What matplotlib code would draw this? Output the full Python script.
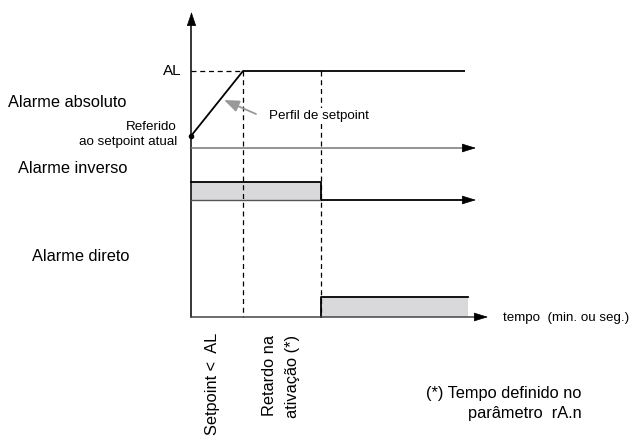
import matplotlib
matplotlib.use("Agg")
import matplotlib.pyplot as plt
from matplotlib.patches import Rectangle

plt.rcParams['font.family'] = ['Liberation Sans', 'DejaVu Sans']

# Key time positions (diagram units)
t_start = 191
t_ramp_end = 243
t_delay_end = 321
t_end = 468

# Setpoint profile (absolute alarm)
sp_t = [t_start, t_ramp_end, t_end - 3]
sp_y = [136, 71, 71]
AL_level = 71

# Row baselines
base_abs = 148
base_inv = 200
base_dir = 317
inv_top = 182
dir_top = 297

BIG = 11.8
SMALL = 9.6

fig = plt.figure(figsize=(6.30, 4.36), dpi=100)
ax = fig.add_axes([0, 0, 1, 1])
ax.set_xlim(0, 630)
ax.set_ylim(436, 0)
ax.axis('off')

lw = 1.3
AP = dict(arrowstyle='-|>,head_length=0.9,head_width=0.28', color='black', lw=0.5, shrinkA=0, shrinkB=0)

# vertical axis
ax.plot([t_start, t_start], [base_dir, 22], color='black', lw=1.1)
ax.annotate('', xy=(t_start + 0.5, 12), xytext=(t_start + 0.5, 24),
            arrowprops=dict(AP, arrowstyle='-|>,head_length=0.9,head_width=0.3'))

# AL dashed
ax.plot([t_start, t_ramp_end], [AL_level, AL_level], color='black', lw=0.9, ls=(0, (4, 3)))
ax.text(182, AL_level, 'AL', ha='right', va='center', fontsize=11)

# setpoint profile
ax.plot(sp_t, sp_y, color='black', lw=lw, solid_capstyle='butt')
ax.plot([sp_t[0]], [sp_y[0]], 'o', color='black', ms=3)

# dashed verticals
for tx in (t_ramp_end, t_delay_end):
    ax.plot([tx, tx], [AL_level, base_dir], color='black', lw=0.9, ls=(0, (4, 3)), zorder=2)

# absolute alarm time axis
ax.plot([t_start, 466], [base_abs, base_abs], color='#777777', lw=1.1, solid_capstyle='butt')
ax.annotate('', xy=(476, base_abs), xytext=(464, base_abs), arrowprops=AP)

# inverse alarm
ax.add_patch(Rectangle((t_start, inv_top), t_delay_end - t_start, base_inv - inv_top,
                       facecolor='#d9d9db', edgecolor='none', zorder=1))
ax.plot([t_start, t_delay_end, t_delay_end], [inv_top, inv_top, base_inv], color='black', lw=lw)
ax.plot([t_start, t_delay_end], [base_inv, base_inv], color='#555555', lw=1.0)
ax.plot([t_delay_end, 466], [base_inv, base_inv], color='black', lw=lw, solid_capstyle='butt')
ax.annotate('', xy=(476, base_inv), xytext=(464, base_inv), arrowprops=AP)

# direct alarm
ax.add_patch(Rectangle((t_delay_end, dir_top), t_end - t_delay_end, base_dir - dir_top,
                       facecolor='#d9d9db', edgecolor='none', zorder=1))
ax.plot([t_delay_end, t_delay_end, t_end], [base_dir, dir_top, dir_top], color='black', lw=lw)
ax.plot([t_start, 478], [base_dir, base_dir], color='#444444', lw=1.1, solid_capstyle='butt')
ax.annotate('', xy=(488, base_dir), xytext=(476, base_dir), arrowprops=AP)

# gray pointer arrow
ax.annotate('', xy=(224, 100), xytext=(256, 114),
            arrowprops=dict(arrowstyle='-|>,head_length=0.9,head_width=0.35', color='#999999', lw=1.3, shrinkA=0, shrinkB=0))
ax.text(269, 116, 'Perfil de setpoint', ha='left', va='center', fontsize=SMALL, zorder=5,
        bbox=dict(facecolor='white', edgecolor='none', pad=1.5))

# labels
ax.text(8, 102, 'Alarme absoluto', ha='left', va='center', fontsize=BIG)
ax.text(177, 127, 'Referido', ha='right', va='center', fontsize=SMALL)
ax.text(177, 142, 'ao setpoint atual', ha='right', va='center', fontsize=SMALL)
ax.text(18, 168, 'Alarme inverso', ha='left', va='center', fontsize=BIG)
ax.text(32, 256, 'Alarme direto', ha='left', va='center', fontsize=BIG)
ax.text(503, 318, 'tempo  (min. ou seg.)', ha='left', va='center', fontsize=SMALL)

ax.text(213, 333, 'Setpoint <  AL', rotation=90, ha='center', va='top', fontsize=BIG)
ax.text(270, 335, 'Retardo na', rotation=90, ha='center', va='top', fontsize=BIG)
ax.text(292, 335, 'ativação (*)', rotation=90, ha='center', va='top', fontsize=BIG)

ax.text(582, 393, '(*) Tempo definido no', ha='right', va='center', fontsize=BIG)
ax.text(582, 413, 'parâmetro  rA.n', ha='right', va='center', fontsize=BIG)

fig.savefig('out.png', dpi=100)
